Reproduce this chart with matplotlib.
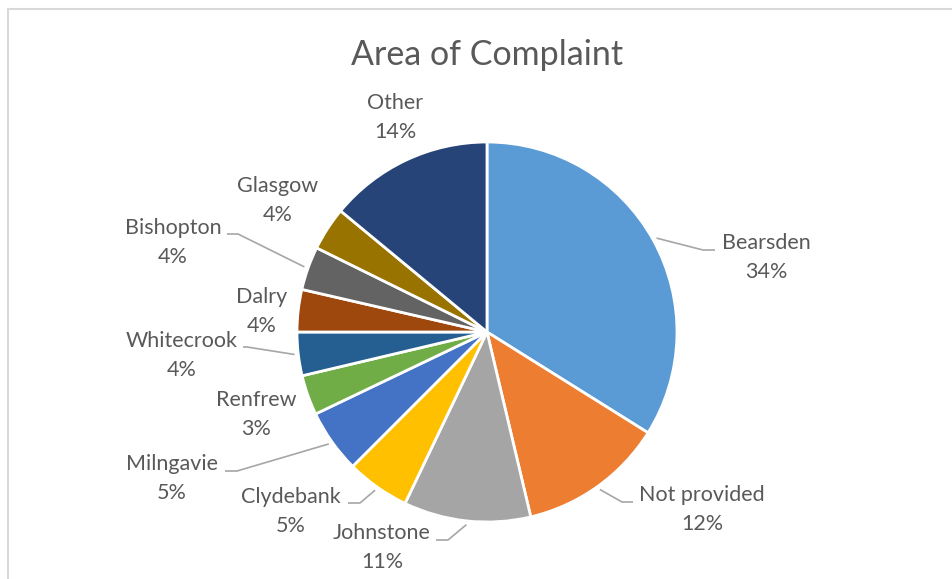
import numpy as np
import matplotlib
matplotlib.use('Agg')
import matplotlib.pyplot as plt
from matplotlib.patches import Rectangle

# data (clockwise from 12 o'clock)
areas = ['Bearsden', 'Not provided', 'Johnstone', 'Clydebank', 'Milngavie',
         'Renfrew', 'Whitecrook', 'Dalry', 'Bishopton', 'Glasgow', 'Other']
shares = [33.9, 12.4, 10.8, 5.4, 5.4, 3.4, 3.7, 3.6, 3.7, 3.7, 14.0]

colors = ['#5B9BD5', '#ED7D31', '#A5A5A5', '#FFC000', '#4472C4', '#70AD47',
          '#255E91', '#9E480E', '#636363', '#997300', '#264478']

# layout in image pixels (x, y from top): label centre, leader elbow (or None)
W, H = 952, 579
CX, CY, R = 487, 332, 190
label_pos = [(766, 243), (702, 495), (382, 533), (291, 497), (172, 464),
             (256, 400), (182, 341), (262, 297), (173, 228), (278, 186),
             (395, 103)]
elbows = [(703, 250, 715), (622, 502, 633), (448, 540, 436), (360, 503, 348),
          (237, 471, 225), None, (247, 347, 243), None, (238, 234, 227), None,
          None]

TXT = '#595959'
FONT = 'Lato'


def fy(y):
    '''image y (from top) -> axes y'''
    return H - y


fig = plt.figure(figsize=(W / 100, H / 100), dpi=100)
ax = fig.add_axes([0, 0, 1, 1])

ax.pie(shares, colors=colors, startangle=90, counterclock=False,
       radius=R, center=(CX, fy(CY)),
       wedgeprops=dict(edgecolor='white', linewidth=2.0))
ax.set_xlim(0, W)
ax.set_ylim(0, H)
ax.set_aspect('equal')
ax.axis('off')

# chart frame
fig.patches.append(Rectangle((8 / W, -0.1), 2.0, fy(9.5) / H + 0.1,
                             transform=fig.transFigure, fill=False,
                             edgecolor='#D9D9D9', linewidth=1.5))

ax.text(CX, fy(65), 'Area of Complaint', ha='center', va='baseline',
        fontsize=24.5, color=TXT, family=FONT)

total = float(sum(shares))
cum = np.cumsum([0] + shares) / total
for i, name in enumerate(areas):
    lx, ly = label_pos[i]
    pct = '{:.0f}%'.format(100 * shares[i] / total)
    ax.text(lx, fy(ly), name, ha='center', va='center', fontsize=15.5,
            color=TXT, family=FONT)
    ax.text(lx, fy(ly + 29), pct, ha='center', va='center', fontsize=15.5,
            color=TXT, family=FONT)
    if elbows[i] is not None:
        ex, ey, tx = elbows[i]
        mid = 2 * np.pi * (cum[i] + cum[i + 1]) / 2
        sx = CX + 1.02 * R * np.sin(mid)
        sy = CY - 1.02 * R * np.cos(mid)
        ax.plot([sx, ex, tx], [fy(sy), fy(ey), fy(ey)], color='#A6A6A6',
                linewidth=1.2, solid_capstyle='butt')

fig.savefig('out.png', dpi=100)
